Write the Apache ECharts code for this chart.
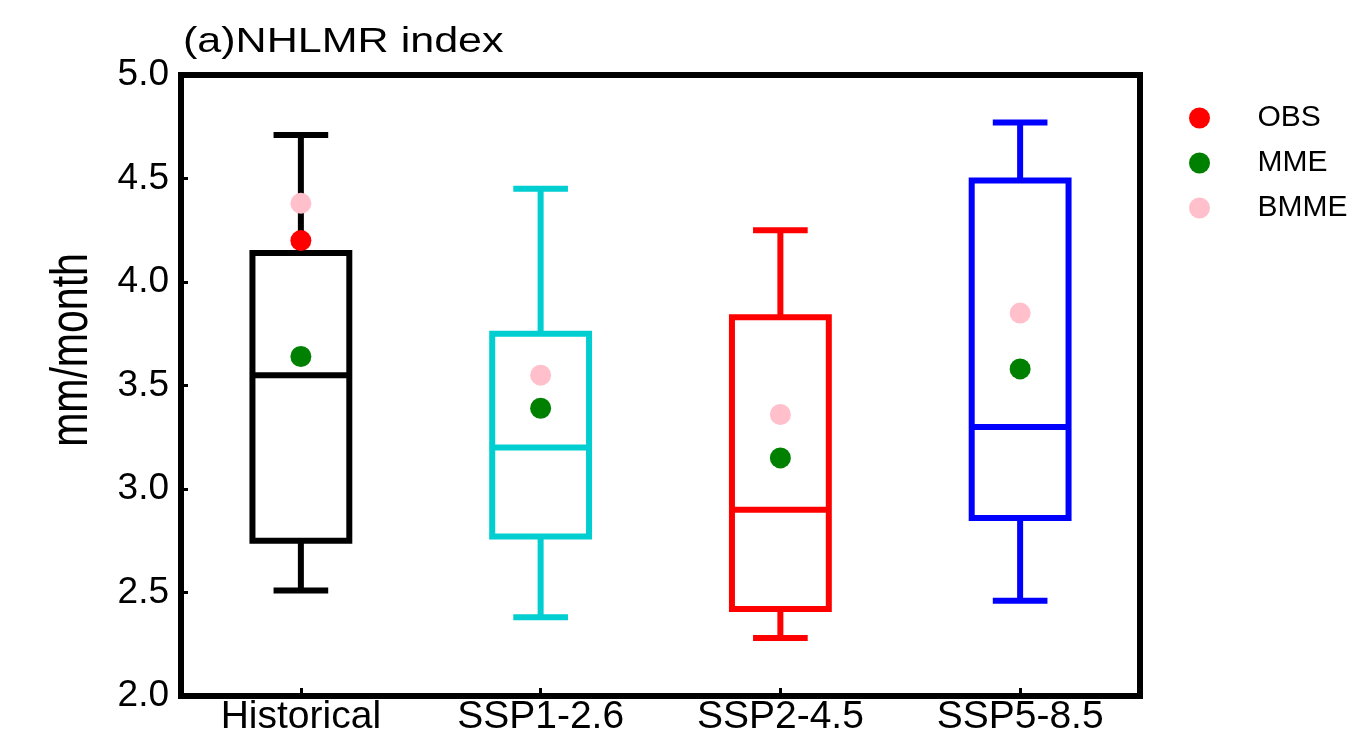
<!DOCTYPE html>
<html>
<head>
<meta charset="utf-8">
<title>NHLMR index</title>
<script src="https://cdn.jsdelivr.net/npm/echarts@6/dist/echarts.min.js"></script>
<style>
  html, body { margin: 0; padding: 0; background: #fff; }
  #app { width: 1367px; height: 751px; }
</style>
</head>
<body>
<div id="app"></div>
<script>
// box statistics per scenario (mm/month)
var categories = ['Historical', 'SSP1-2.6', 'SSP2-4.5', 'SSP5-8.5'];
var whiskerLow = [2.51, 2.38, 2.28, 2.46];
var boxQ1 = [2.75, 2.77, 2.42, 2.86];
var boxMedian = [3.55, 3.20, 2.90, 3.30];
var boxQ3 = [4.14, 3.75, 3.83, 4.49];
var whiskerHigh = [4.71, 4.45, 4.25, 4.77];

// dots
var obsValues = [4.20, null, null, null];
var mmeValues = [3.64, 3.39, 3.15, 3.58];
var bmmeValues = [4.38, 3.55, 3.36, 3.85];

var boxColors = ['#000000', '#00CED1', '#FF0000', '#0000FF'];
var FONT = '"Liberation Sans", Arial, Helvetica, sans-serif';

var boxData = categories.map(function (c, i) {
    return [i, whiskerLow[i], boxQ1[i], boxMedian[i], boxQ3[i], whiskerHigh[i]];
});

function toPoints(values) {
    return values.map(function (v, i) {
        return v == null ? [i, '-'] : [i, v];
    });
}

function renderBox(params, api) {
    var i = api.value(0);
    var x = api.coord([i, api.value(1)])[0];
    var yLow = api.coord([i, api.value(1)])[1];
    var yQ1 = api.coord([i, api.value(2)])[1];
    var yMed = api.coord([i, api.value(3)])[1];
    var yQ3 = api.coord([i, api.value(4)])[1];
    var yHigh = api.coord([i, api.value(5)])[1];
    var band = api.size([1, 0])[0];
    var hw = band * 0.202;
    var cw = band * 0.114;
    var color = boxColors[params.dataIndex];
    function st() {
        return { stroke: color, lineWidth: 6, fill: null, lineJoin: 'miter', lineCap: 'butt' };
    }
    return {
        type: 'group',
        children: [
            { type: 'line', shape: { x1: x, y1: yHigh, x2: x, y2: yQ3 }, style: st() },
            { type: 'line', shape: { x1: x, y1: yQ1, x2: x, y2: yLow }, style: st() },
            { type: 'line', shape: { x1: x - cw, y1: yHigh, x2: x + cw, y2: yHigh }, style: st() },
            { type: 'line', shape: { x1: x - cw, y1: yLow, x2: x + cw, y2: yLow }, style: st() },
            { type: 'rect', shape: { x: x - hw, y: yQ3, width: 2 * hw, height: yQ1 - yQ3 }, style: st() },
            { type: 'line', shape: { x1: x - hw, y1: yMed, x2: x + hw, y2: yMed }, style: st() }
        ]
    };
}

var myChart = echarts.init(document.getElementById('app'), null, { renderer: 'canvas' });

var option = {
    animation: false,
    backgroundColor: '#ffffff',
    textStyle: { fontFamily: FONT },
    graphic: [
        {
            type: 'text',
            x: 183, y: 25,
            scaleX: 1.23,
            style: {
                text: '(a)NHLMR index',
                x: 0, y: 0,
                font: '35px ' + FONT,
                fill: '#000',
                textAlign: 'left',
                verticalAlign: 'top'
            }
        },
        {
            type: 'text',
            x: 47, y: 350,
            rotation: Math.PI / 2,
            scaleY: 1.27,
            style: {
                text: 'mm/month',
                x: 0, y: 0,
                font: '41px ' + FONT,
                fill: '#000',
                textAlign: 'center',
                verticalAlign: 'top'
            }
        }
    ],
    legend: {
        orient: 'vertical',
        left: 1184,
        top: 98,
        icon: 'circle',
        itemWidth: 106,
        itemHeight: 21,
        itemGap: 15,
        data: ['OBS', 'MME', 'BMME'],
        textStyle: { fontSize: 30, color: '#000', fontFamily: FONT, lineHeight: 30 }
    },
    grid: {
        left: 181,
        right: 227,
        top: 75,
        bottom: 55,
        show: true,
        borderColor: '#000',
        borderWidth: 6,
        containLabel: false,
        outerBoundsMode: 'none'
    },
    xAxis: {
        type: 'category',
        data: categories,
        axisLine: { show: true, lineStyle: { color: '#000', width: 6 } },
        axisTick: { show: true, inside: true, length: 8, alignWithLabel: true, lineStyle: { color: '#000', width: 3 } },
        axisLabel: { fontSize: 39, color: '#000', margin: 2, fontFamily: FONT },
        splitLine: { show: false }
    },
    yAxis: {
        type: 'value',
        min: 2,
        max: 5,
        interval: 0.5,
        axisLine: { show: true, lineStyle: { color: '#000', width: 6 } },
        axisTick: { show: true, inside: true, length: 7, lineStyle: { color: '#000', width: 3 } },
        axisLabel: {
            fontSize: 37, color: '#000', margin: 12, fontFamily: FONT,
            formatter: function (v) { return v.toFixed(1); }
        },
        splitLine: { show: false }
    },
    series: [
        {
            name: 'boxes',
            type: 'custom',
            renderItem: renderBox,
            encode: { x: 0, y: [1, 2, 3, 4, 5] },
            data: boxData,
            z: 2
        },
        {
            name: 'OBS',
            type: 'scatter',
            symbol: 'circle',
            symbolSize: 21,
            itemStyle: { color: '#FF0000', opacity: 1 },
            data: toPoints(obsValues),
            z: 4
        },
        {
            name: 'MME',
            type: 'scatter',
            symbol: 'circle',
            symbolSize: 21,
            itemStyle: { color: '#008000', opacity: 1 },
            data: toPoints(mmeValues),
            z: 4
        },
        {
            name: 'BMME',
            type: 'scatter',
            symbol: 'circle',
            symbolSize: 21,
            itemStyle: { color: '#FFC0CB', opacity: 1 },
            data: toPoints(bmmeValues),
            z: 3
        }
    ]
};

myChart.setOption(option);
</script>
</body>
</html>
